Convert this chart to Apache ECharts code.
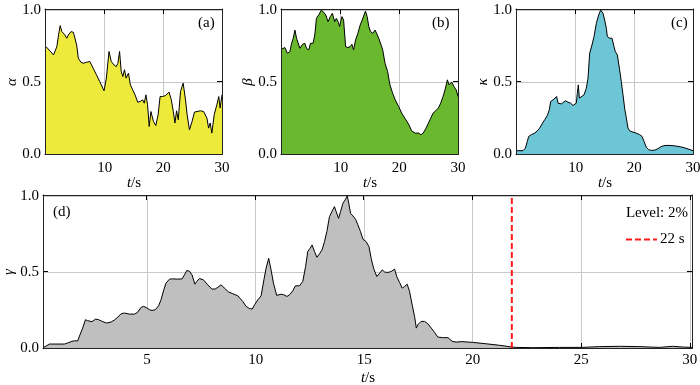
<!DOCTYPE html>
<html>
<head>
<meta charset="utf-8">
<script src="https://cdn.jsdelivr.net/npm/echarts@6/dist/echarts.min.js"></script>
<style>
    html, body { margin: 0; padding: 0; background: #fff; }
    #chart { width: 700px; height: 385px; }
</style>
</head>
<body>
<div id="chart"></div>
<script>
/* ---------- data ---------- */
var tA = [0, 1.29, 1.85, 2.14, 2.42, 2.70, 3.15, 3.54, 3.82, 4.27, 4.67, 4.95, 5.23, 5.51, 5.96, 6.35, 6.91, 7.19, 7.48, 7.76,
    8.04, 8.60, 9.16, 9.89, 10.29, 10.74, 11.13, 11.58, 11.97, 12.25, 12.54, 12.82, 13.10, 13.38, 13.66, 14.05, 14.39, 14.78, 15.18, 15.63,
    16.08, 16.47, 16.75, 17.03, 17.31, 17.59, 17.88, 18.32, 18.72, 19.11, 19.45, 19.84, 20.40, 20.97, 21.36, 21.70, 21.98, 22.26, 22.54, 22.93,
    23.38, 23.78, 24.06, 24.45, 24.90, 25.30, 25.74, 26.31, 26.87, 27.43, 27.71, 27.99, 28.27, 28.67, 29.12, 29.45, 29.68, 30.0];
var alphaVals = [0.746, 0.688, 0.746, 0.827, 0.892, 0.85, 0.831, 0.804, 0.827, 0.85, 0.845, 0.854, 0.757, 0.665, 0.637, 0.63, 0.637, 0.624, 0.642, 0.619,
    0.596, 0.55, 0.503, 0.439, 0.527, 0.712, 0.642, 0.619, 0.607, 0.63, 0.712, 0.573, 0.538, 0.585, 0.527, 0.561, 0.48, 0.445, 0.411, 0.36,
    0.365, 0.376, 0.353, 0.411, 0.342, 0.191, 0.295, 0.226, 0.198, 0.272, 0.399, 0.399, 0.406, 0.43, 0.376, 0.295, 0.215, 0.3, 0.238, 0.434,
    0.492, 0.376, 0.272, 0.168, 0.226, 0.291, 0.295, 0.3, 0.295, 0.249, 0.18, 0.215, 0.145, 0.272, 0.342, 0.399, 0.319, 0.411];

var tB = [0, 0.50, 0.90, 1.35, 1.63, 1.92, 2.20, 2.48, 2.76, 3.05, 3.50, 3.89, 4.17, 4.57, 4.85, 5.30, 5.59, 5.87, 6.32, 6.72,
    7.12, 7.46, 7.85, 8.24, 8.58, 8.98, 9.26, 9.60, 9.82, 9.99, 10.22, 10.50, 10.84, 11.24, 11.63, 11.91, 12.20, 12.54, 12.93, 13.33,
    13.67, 13.96, 14.23, 14.51, 14.80, 15.08, 15.47, 15.87, 16.15, 16.49, 16.89, 17.17, 17.56, 18.0, 18.4, 18.86, 19.3, 19.88, 20.4, 21.0,
    21.57, 22.1, 22.7, 23.3, 23.67, 24.06, 24.5, 24.96, 25.36, 25.75, 26.2, 26.65, 27.05, 27.45, 27.79, 28.19, 28.48, 28.92, 29.3, 29.7, 30.0];
var betaVals = [0.73, 0.739, 0.70, 0.711, 0.769, 0.804, 0.861, 0.804, 0.792, 0.734, 0.762, 0.769, 0.734, 0.723, 0.769, 0.769, 0.827, 0.942, 0.97, 1.0,
    0.984, 0.965, 0.919, 0.954, 0.977, 0.919, 0.942, 0.915, 0.885, 0.919, 0.954, 0.93, 0.746, 0.739, 0.746, 0.762, 0.723, 0.792, 0.838, 0.896,
    0.93, 0.942, 0.993, 0.954, 0.885, 0.85, 0.838, 0.861, 0.854, 0.804, 0.757, 0.723, 0.63, 0.573, 0.48, 0.422, 0.376, 0.33, 0.284, 0.245,
    0.208, 0.161, 0.145, 0.145, 0.134, 0.145, 0.175, 0.215, 0.249, 0.284, 0.3, 0.319, 0.353, 0.399, 0.445, 0.515, 0.48, 0.499, 0.469, 0.445, 0.399];

var tC = [0, 1.02, 1.42, 1.76, 1.99, 2.44, 3.01, 3.47, 3.86, 4.26, 4.72, 5.17, 5.51, 5.74, 6.14, 6.42, 6.76, 6.99, 7.27, 7.56,
    7.84, 8.24, 8.69, 9.15, 9.55, 9.83, 10.11, 10.28, 10.45, 10.63, 10.97, 11.42, 11.82, 12.1, 12.39, 12.78, 13.13, 13.52, 13.92, 14.26,
    14.66, 14.94, 15.23, 15.4, 15.8, 16.19, 16.53, 16.76, 17.1, 17.5, 17.78, 18.07, 18.35, 18.64, 18.92, 19.2, 19.77, 20.34, 20.91, 21.31,
    21.65, 22.05, 22.44, 22.9, 23.47, 24.03, 24.49, 25.06, 25.74, 26.59, 27.44, 28.3, 29.15, 30.0];
var kappaVals = [0.023, 0.023, 0.04, 0.088, 0.122, 0.134, 0.145, 0.161, 0.18, 0.208, 0.238, 0.268, 0.307, 0.365, 0.376, 0.365, 0.399, 0.353, 0.365, 0.348,
    0.36, 0.37, 0.36, 0.353, 0.337, 0.33, 0.353, 0.42, 0.48, 0.388, 0.376, 0.411, 0.457, 0.526, 0.70, 0.757, 0.815, 0.907, 0.965, 1.0,
    0.977, 0.93, 0.873, 0.815, 0.804, 0.804, 0.746, 0.711, 0.688, 0.584, 0.503, 0.411, 0.318, 0.249, 0.18, 0.161, 0.152, 0.145, 0.134, 0.122,
    0.088, 0.046, 0.03, 0.025, 0.027, 0.037, 0.05, 0.058, 0.06, 0.058, 0.053, 0.046, 0.035, 0.023];

var tD = [0.25, 0.34, 0.5, 0.8, 1.19, 1.34, 1.5, 1.65, 1.8, 1.91, 2.03, 2.16, 2.26, 2.46, 2.62, 2.77, 2.96, 3.14, 3.34, 3.49,
    3.65, 3.8, 3.95, 4.19, 4.42, 4.57, 4.72, 4.83, 4.95, 5.11, 5.23, 5.38, 5.53, 5.64, 5.77, 5.87, 6.03, 6.18, 6.41, 6.61,
    6.72, 6.83, 6.95, 7.07, 7.2, 7.29, 7.41, 7.59, 7.79, 7.99, 8.15, 8.26, 8.41, 8.56, 8.76, 8.95, 9.18, 9.41, 9.56, 9.71,
    9.84, 9.95, 10.1, 10.25, 10.38, 10.48, 10.6, 10.71, 10.82, 10.97, 11.17, 11.3, 11.44, 11.56, 11.71, 11.83, 12.02, 12.17, 12.3, 12.4,
    12.51, 12.6, 12.71, 12.82, 12.94, 13.06, 13.17, 13.28, 13.4, 13.52, 13.63, 13.71, 13.82, 13.91, 14.02, 14.12, 14.22, 14.29, 14.37, 14.48,
    14.6, 14.71, 14.83, 14.94, 15.09, 15.22, 15.32, 15.43, 15.58, 15.71, 15.83, 15.94, 16.09, 16.24, 16.4, 16.5, 16.63, 16.75, 16.86, 16.98,
    17.09, 17.21, 17.32, 17.4, 17.47, 17.62, 17.78, 17.93, 18.09, 18.24, 18.39, 18.62, 18.86, 19.05, 19.24, 19.5, 20.0, 20.6, 21.23, 21.77,
    22.0, 22.77, 24.0, 25.0, 25.84, 26.77, 27.7, 28.6, 29.2, 29.7, 30.1];
var gammaVals = [0.005, 0.018, 0.026, 0.026, 0.026, 0.033, 0.042, 0.048, 0.046, 0.088, 0.131, 0.186, 0.18, 0.173, 0.19, 0.186, 0.173, 0.164, 0.171, 0.184,
    0.203, 0.225, 0.23, 0.223, 0.223, 0.236, 0.267, 0.274, 0.267, 0.252, 0.247, 0.252, 0.278, 0.317, 0.383, 0.427, 0.453, 0.455, 0.453, 0.455,
    0.481, 0.51, 0.505, 0.481, 0.42, 0.438, 0.457, 0.449, 0.416, 0.387, 0.389, 0.40, 0.416, 0.394, 0.368, 0.357, 0.343, 0.306, 0.274, 0.26,
    0.256, 0.284, 0.317, 0.343, 0.449, 0.525, 0.59, 0.514, 0.427, 0.346, 0.354, 0.35, 0.339, 0.35, 0.376, 0.409, 0.409, 0.438, 0.536, 0.635,
    0.656, 0.678, 0.635, 0.597, 0.619, 0.646, 0.70, 0.766, 0.864, 0.90, 0.93, 0.897, 0.853, 0.897, 0.952, 0.974, 1.0, 0.952, 0.886, 0.869,
    0.847, 0.81, 0.766, 0.716, 0.70, 0.667, 0.59, 0.525, 0.47, 0.492, 0.514, 0.50, 0.497, 0.503, 0.519, 0.47, 0.431, 0.394, 0.405, 0.42,
    0.372, 0.284, 0.208, 0.131, 0.153, 0.175, 0.175, 0.16, 0.131, 0.103, 0.072, 0.068, 0.068, 0.044, 0.039, 0.042, 0.037, 0.028, 0.018, 0.007,
    0.004, 0.002, 0.004, 0.004, 0.009, 0.011, 0.009, 0.004, 0.011, 0.006, 0.004];

var levelTime = 21.8;
var smallTicks = [10, 20, 30];
var bigTicks = [5, 10, 15, 20, 25, 30];
var yTicks = [0, 0.5, 1];

/* ---------- helpers ---------- */
var FONT = '"Liberation Serif", "Times New Roman", serif';
var FS = 15;
var SHIFT = 100;   // frame axes use a shifted domain so they never snap onto zero
var grids = [], xAxes = [], yAxes = [], series = [], frames = [];

function zip(xs, ys) {
    return xs.map(function (x, i) { return [x, ys[i]]; });
}

function plus(arr) {
    return arr.map(function (v) { return v + SHIFT; });
}

function gridAt(box) {
    // keep the grid exactly where it is put, no shrinking to fit labels
    return Object.assign({ containLabel: false, outerBoundsMode: 'none' }, box);
}

// empty grid one pixel round the plot that draws two sides of the box and their ticks
function addFrame(box, p, xPos, yPos) {
    var g = grids.length;
    grids.push(gridAt({ left: box.left - 1, top: box.top - 1, width: box.width + 1, height: box.height + 1 }));
    var line = { show: true, onZero: false, lineStyle: { color: '#222', width: 1 } };
    var tk = { show: true, inside: true, length: 5, lineStyle: { color: '#000', width: 1 } };
    xAxes.push({
        gridIndex: g, type: 'value', min: p.xmin + SHIFT, max: p.xmax + SHIFT, position: xPos,
        axisLine: line, axisTick: Object.assign({ customValues: plus(p.ticks) }, tk),
        axisLabel: { show: false }, splitLine: { show: false }
    });
    yAxes.push({
        gridIndex: g, type: 'value', min: SHIFT, max: SHIFT + 1, position: yPos,
        axisLine: line, axisTick: Object.assign({ customValues: plus(yTicks) }, tk),
        axisLabel: { show: false }, splitLine: { show: false }
    });
}

function addPanel(box, p) {
    var g = grids.length;
    grids.push(gridAt(box));
    var gridLine = { show: true, lineStyle: { color: '#c8c8c8', width: 1 } };

    var xi = xAxes.length;
    xAxes.push({
        gridIndex: g, type: 'value', min: p.xmin, max: p.xmax, position: 'bottom',
        axisLine: { show: false, onZero: false },
        axisTick: { show: false, customValues: p.ticks },
        axisLabel: { show: true, customValues: p.ticks, margin: p.labelMargin, fontFamily: FONT, fontSize: FS, color: '#000' },
        splitLine: gridLine,
        name: '{i|t}/s', nameLocation: 'middle', nameGap: p.nameGap, nameMoveOverlap: false,
        nameTextStyle: { fontFamily: FONT, fontSize: FS, color: '#000', rich: { i: { fontStyle: 'italic', fontFamily: FONT, fontSize: FS } } }
    });
    var yi = yAxes.length;
    yAxes.push({
        gridIndex: g, type: 'value', min: 0, max: 1, position: 'left',
        axisLine: { show: false, onZero: false },
        axisTick: { show: false, customValues: yTicks },
        axisLabel: {
            show: true, customValues: yTicks, margin: 5, fontFamily: FONT, fontSize: FS, color: '#000',
            formatter: function (v) { return Number(v).toFixed(1); }
        },
        splitLine: gridLine,
        name: p.yName, nameLocation: 'middle', nameGap: p.yNameGap, nameMoveOverlap: false,
        nameTextStyle: { fontFamily: FONT, fontSize: FS, fontStyle: 'italic', color: '#000' }
    });

    series.push({
        type: 'line', xAxisIndex: xi, yAxisIndex: yi,
        data: zip(p.t, p.v),
        symbol: 'none',
        lineStyle: { color: '#000', width: 1 },
        areaStyle: { color: p.fill, opacity: 1 }
    });

    addFrame(box, p, 'bottom', 'left');
    addFrame(box, p, 'top', 'right');
    // same box again as a plain outline on top, in case the axis lines sit under the fill
    frames.push({
        type: 'rect', z: 100,
        shape: { x: box.left - 0.5, y: box.top - 0.5, width: box.width + 1, height: box.height + 1 },
        style: { fill: 'none', stroke: '#222', lineWidth: 1 }
    });
    return { xi: xi, yi: yi };
}

addPanel({ left: 46, top: 10, width: 176, height: 144 },
    { xmin: 0, xmax: 30, ticks: smallTicks, labelMargin: 7, nameGap: 22, yName: 'α', yNameGap: 26, t: tA, v: alphaVals, fill: '#eeea3b' });
addPanel({ left: 282, top: 10, width: 176, height: 144 },
    { xmin: 0, xmax: 30, ticks: smallTicks, labelMargin: 7, nameGap: 22, yName: 'β', yNameGap: 26, t: tB, v: betaVals, fill: '#6ab82e' });
addPanel({ left: 517, top: 10, width: 176, height: 144 },
    { xmin: 0, xmax: 30, ticks: smallTicks, labelMargin: 7, nameGap: 22, yName: 'κ', yNameGap: 26, t: tC, v: kappaVals, fill: '#6cc6d6' });
var d = addPanel({ left: 44, top: 196, width: 648, height: 152 },
    { xmin: 0.25, xmax: 30.1, ticks: bigTicks, labelMargin: 5, nameGap: 23, yName: 'γ', yNameGap: 27, t: tD, v: gammaVals, fill: '#bebfbe' });

// detection level marker in (d)
series.push({
    name: '22 s', type: 'line', xAxisIndex: d.xi, yAxisIndex: d.yi, z: 4,
    data: [[levelTime, 0], [levelTime, 1]],
    symbol: 'none',
    itemStyle: { color: '#ff1a1a' },
    lineStyle: { color: '#ff1a1a', width: 2, type: [6, 3] }
});

function label(text, x, y, align) {
    return {
        type: 'text', x: x, y: y, z: 100,
        style: { text: text, font: FS + 'px ' + FONT, fill: '#000', textAlign: align || 'left', textVerticalAlign: 'middle' }
    };
}

var chart = echarts.init(document.getElementById('chart'));
chart.setOption({
    animation: false,
    grid: grids,
    xAxis: xAxes,
    yAxis: yAxes,
    series: series,
    legend: {
        data: [{ name: '22 s', icon: 'path://M0,0h6v2h-6zM9,0h6v2h-6zM18,0h6v2h-6zM27,0h4v2h-4z' }],
        left: 626, top: 232, padding: 0,
        itemWidth: 31, itemHeight: 2,
        itemStyle: { color: '#ff1a1a', borderWidth: 0 },
        textStyle: { fontFamily: FONT, fontSize: FS, color: '#000', padding: [0, 0, 0, -2] }
    },
    graphic: frames.concat([
        label('(a)', 198, 23),
        label('(b)', 432, 23),
        label('(c)', 671, 23),
        label('(d)', 53, 212),
        label('Level: 2%', 688, 213, 'right')
    ])
});
</script>
</body>
</html>
